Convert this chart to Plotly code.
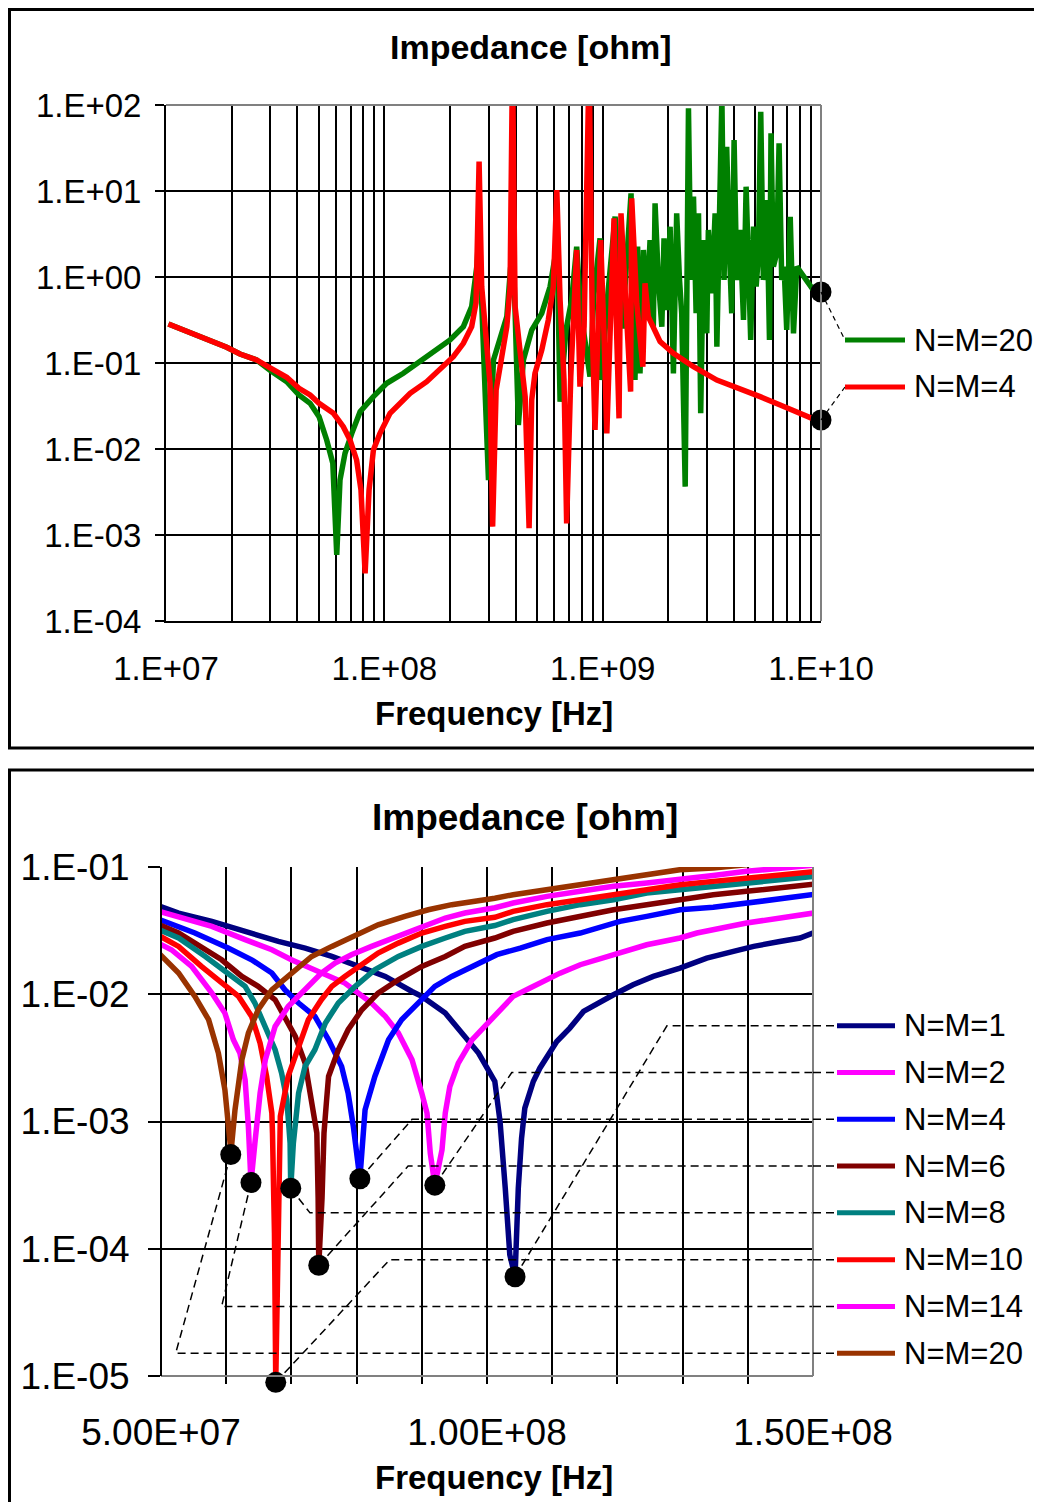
import numpy as np
import plotly.graph_objects as go

W, H = 1042, 1502
OFFSET = 8  # the page body adds an 8 px margin around the figure
FONT = "Liberation Sans, Arial, Helvetica, sans-serif"

# ---------------- Top chart: (log10 frequency [Hz], log10 impedance [ohm]) ----------------
N20_TOP = [
    (7.011, -0.546), (7.125, -0.655), (7.202, -0.732), (7.278, -0.817), (7.339, -0.895), (7.415, -0.965),
    (7.481, -1.093), (7.553, -1.217), (7.609, -1.372), (7.660, -1.469), (7.701, -1.624), (7.736, -1.895),
    (7.764, -2.166), (7.782, -3.232), (7.797, -2.360), (7.820, -2.050), (7.851, -1.818), (7.889, -1.566),
    (7.950, -1.391), (8.011, -1.236), (8.087, -1.120), (8.163, -0.984), (8.240, -0.849), (8.301, -0.732),
    (8.362, -0.577), (8.400, -0.345), (8.425, 0.150), (8.434, 0.600), (8.446, -0.300), (8.462, -1.200),
    (8.477, -2.361), (8.500, -0.965), (8.530, -0.733), (8.561, -0.461), (8.578, 0.100), (8.590, 0.300),
    (8.600, -0.500), (8.614, -1.721), (8.637, -0.965), (8.675, -0.616), (8.721, -0.423), (8.759, -0.113),
    (8.782, 0.236), (8.790, 0.500), (8.805, -1.450), (8.832, -0.616), (8.858, -0.267), (8.881, 0.353),
    (8.900, -0.400), (8.942, -1.159), (8.960, -0.200), (8.988, 0.449), (8.995, -1.198), (9.020, -0.300),
    (9.057, 0.702), (9.090, -0.600), (9.130, 0.973), (9.148, -1.198), (9.160, 0.353), (9.171, -1.120),
    (9.187, 0.314), (9.202, -0.422), (9.217, 0.430), (9.232, -0.578), (9.240, 0.857), (9.255, -0.035),
    (9.271, -0.578), (9.281, 0.450), (9.294, -0.384), (9.309, 0.585), (9.324, -1.120), (9.339, 0.740),
    (9.352, -0.035), (9.362, -0.422), (9.378, -2.438), (9.385, 0.663), (9.393, 1.961), (9.404, -0.035),
    (9.416, 0.934), (9.428, -0.422), (9.439, 0.740), (9.449, -1.585), (9.462, 0.430), (9.477, -0.655),
    (9.484, 0.547), (9.500, -0.190), (9.515, 0.740), (9.523, -0.810), (9.535, 0.353), (9.546, 2.100),
    (9.556, -0.035), (9.568, 1.515), (9.581, 0.275), (9.591, -0.422), (9.602, 1.593), (9.614, -0.035),
    (9.629, 0.547), (9.645, -0.500), (9.657, 1.050), (9.668, -0.035), (9.678, -0.732), (9.691, 0.585),
    (9.703, -0.112), (9.713, 0.236), (9.724, 1.922), (9.736, -0.035), (9.752, 0.895), (9.764, -0.732),
    (9.771, 1.671), (9.782, 0.120), (9.797, 0.275), (9.808, 1.554), (9.820, -0.035), (9.831, 0.120),
    (9.843, -0.616), (9.859, 0.701), (9.874, -0.655), (9.889, 0.120), (9.920, 0.004), (9.965, -0.151),
    (10.000, -0.174),
]
N4_TOP = [
    (7.011, -0.546), (7.125, -0.655), (7.202, -0.732), (7.278, -0.817), (7.339, -0.895), (7.415, -0.965),
    (7.481, -1.062), (7.553, -1.166), (7.609, -1.294), (7.660, -1.372), (7.701, -1.469), (7.767, -1.585),
    (7.812, -1.740), (7.843, -1.895), (7.873, -2.128), (7.893, -2.476), (7.912, -3.445), (7.930, -2.476),
    (7.950, -2.011), (7.980, -1.818), (8.026, -1.585), (8.072, -1.469), (8.118, -1.352), (8.194, -1.217),
    (8.270, -1.042), (8.316, -0.926), (8.362, -0.771), (8.400, -0.577), (8.420, -0.300), (8.434, 1.341),
    (8.446, -0.113), (8.469, -0.733), (8.484, -1.236), (8.496, -2.903), (8.512, -1.314), (8.538, -0.926),
    (8.561, -0.578), (8.576, -0.113), (8.587, 2.500), (8.599, -0.345), (8.622, -0.888), (8.645, -1.391),
    (8.663, -2.922), (8.675, -1.430), (8.690, -1.120), (8.721, -0.849), (8.751, -0.500), (8.774, -0.113),
    (8.790, 1.011), (8.805, -0.267), (8.823, -1.198), (8.835, -2.865), (8.854, -1.159), (8.869, -0.461),
    (8.881, 0.314), (8.896, -1.275), (8.915, -0.578), (8.938, 2.500), (8.953, -0.655), (8.965, -1.779),
    (8.980, -0.267), (8.991, 0.430), (9.006, -0.655), (9.019, -1.818), (9.034, -0.655), (9.052, 0.682),
    (9.064, -0.655), (9.075, -1.643), (9.084, 0.740), (9.106, -0.423), (9.128, -1.333), (9.133, 0.915),
    (9.156, -0.306), (9.184, -1.043), (9.194, -0.074), (9.209, -0.461), (9.232, -0.578), (9.263, -0.752),
    (9.324, -0.887), (9.416, -1.043), (9.523, -1.198), (9.629, -1.295), (9.721, -1.391), (9.813, -1.488),
    (9.904, -1.585), (9.958, -1.643), (10.000, -1.663),
]
TOP_SERIES = [("N=M=20", "#008000", N20_TOP), ("N=M=4", "#FF0000", N4_TOP)]
TOP_XTICKS = [1e7, 1e8, 1e9, 1e10]
TOP_XTEXT = ["1.E+07", "1.E+08", "1.E+09", "1.E+10"]
TOP_YTICKS = [1e-4, 1e-3, 1e-2, 1e-1, 1e0, 1e1, 1e2]
TOP_YTEXT = ["1.E-04", "1.E-03", "1.E-02", "1.E-01", "1.E+00", "1.E+01", "1.E+02"]

# ---------------- Bottom chart: (frequency [MHz], log10 impedance [ohm]) ----------------
NM1 = [(48.5, -1.283), (52.7, -1.362), (57.8, -1.427), (62.9, -1.506), (68.0, -1.585), (72.1, -1.637),
       (76.2, -1.703), (80.3, -1.781), (84.4, -1.860), (88.5, -1.978), (90.0, -2.017), (93.6, -2.148),
       (96.6, -2.331), (98.7, -2.462), (101.2, -2.685), (102.0, -3.000), (102.8, -3.524), (103.5, -4.048),
       (104.3, -4.220), (104.8, -3.524), (105.3, -3.131), (105.8, -2.895), (107.1, -2.685), (108.1, -2.581),
       (110.7, -2.371), (112.7, -2.266), (114.8, -2.135), (116.8, -2.083), (119.4, -2.004), (122.4, -1.925),
       (125.5, -1.860), (129.6, -1.794), (133.7, -1.716), (137.8, -1.663), (140.9, -1.624), (144.9, -1.585),
       (148.0, -1.558), (150.0, -1.519), (151.8, -1.519)]
NM2 = [(48.5, -1.330), (52.7, -1.388), (57.8, -1.467), (62.9, -1.571), (67.0, -1.650), (70.0, -1.729),
       (74.1, -1.820), (78.2, -1.912), (82.3, -2.069), (84.4, -2.174), (86.4, -2.305), (88.5, -2.515),
       (90.0, -2.777), (90.8, -2.934), (91.3, -3.249), (92.0, -3.500), (93.1, -3.222), (93.6, -2.934),
       (94.3, -2.725), (95.6, -2.541), (97.7, -2.358), (101.2, -2.170), (104.0, -2.017), (106.6, -1.951),
       (111.2, -1.834), (114.3, -1.768), (119.4, -1.689), (124.5, -1.611), (129.6, -1.558), (132.2, -1.519),
       (139.8, -1.440), (144.9, -1.401), (151.8, -1.349)]
NM4 = [(48.5, -1.388), (52.7, -1.467), (55.2, -1.519), (60.3, -1.637), (63.9, -1.729), (67.0, -1.833),
       (69.0, -1.965), (71.1, -2.069), (73.6, -2.174), (75.7, -2.358), (77.7, -2.567), (78.7, -2.777),
       (79.5, -3.039), (80.5, -3.450), (81.3, -2.908), (82.8, -2.646), (84.9, -2.358), (86.9, -2.200),
       (88.5, -2.122), (90.0, -2.043), (92.0, -1.938), (94.6, -1.860), (97.7, -1.781), (99.7, -1.729),
       (101.5, -1.689), (105.1, -1.637), (109.2, -1.571), (114.3, -1.519), (120.4, -1.427), (124.5, -1.388),
       (129.6, -1.336), (134.7, -1.317), (139.8, -1.283), (144.9, -1.244), (151.8, -1.205)]
NM6 = [(48.5, -1.427), (52.7, -1.519), (55.2, -1.598), (59.3, -1.729), (62.4, -1.860), (64.9, -1.938),
       (67.5, -2.043), (69.0, -2.174), (70.6, -2.331), (72.1, -2.541), (73.4, -2.900), (73.9, -3.090),
       (74.1, -3.600), (74.2, -4.130), (74.7, -3.600), (75.0, -3.090), (75.4, -2.830), (75.7, -2.646),
       (77.2, -2.436), (78.7, -2.279), (80.8, -2.122), (83.3, -1.991), (86.4, -1.886), (90.0, -1.781),
       (93.6, -1.703), (96.6, -1.624), (101.2, -1.558), (104.0, -1.506), (109.2, -1.440), (114.3, -1.388),
       (119.4, -1.336), (124.5, -1.296), (129.6, -1.257), (134.7, -1.218), (139.8, -1.191), (144.9, -1.165),
       (151.8, -1.126)]
NM8 = [(48.5, -1.467), (52.7, -1.558), (56.8, -1.703), (60.3, -1.833), (62.9, -1.938), (64.4, -2.069),
       (66.0, -2.253), (67.5, -2.436), (68.5, -2.620), (69.3, -2.829), (69.8, -3.170), (69.9, -3.524),
       (70.3, -3.170), (71.1, -2.777), (72.1, -2.567), (73.6, -2.436), (75.2, -2.227), (77.2, -2.069),
       (79.8, -1.938), (82.8, -1.807), (86.4, -1.703), (90.0, -1.624), (93.6, -1.558), (96.6, -1.506),
       (101.2, -1.460), (104.0, -1.414), (109.2, -1.349), (114.3, -1.296), (119.4, -1.257), (124.5, -1.205),
       (129.6, -1.178), (134.7, -1.152), (139.8, -1.126), (144.9, -1.100), (151.8, -1.066)]
NM10 = [(48.5, -1.506), (52.7, -1.624), (56.2, -1.781), (59.3, -1.912), (61.9, -2.017), (63.9, -2.174),
        (65.2, -2.384), (66.2, -2.646), (67.0, -2.934), (67.1, -3.091), (67.4, -3.878), (67.6, -5.050),
        (68.0, -3.878), (68.3, -2.960), (69.5, -2.646), (71.1, -2.410), (72.6, -2.200), (74.6, -2.043),
        (76.2, -1.938), (78.2, -1.860), (80.3, -1.781), (83.3, -1.676), (86.4, -1.598), (90.0, -1.519),
        (93.6, -1.467), (96.6, -1.427), (101.2, -1.395), (104.0, -1.349), (109.2, -1.296), (114.3, -1.257),
        (119.4, -1.218), (124.5, -1.178), (129.6, -1.139), (134.7, -1.113), (139.8, -1.087), (144.9, -1.060),
        (151.8, -1.029)]
NM14 = [(48.5, -1.571), (51.6, -1.650), (54.7, -1.781), (57.8, -1.991), (59.8, -2.148), (61.1, -2.358),
        (62.1, -2.462), (62.9, -2.672), (63.4, -3.039), (63.8, -3.480), (64.4, -3.170), (65.2, -2.777),
        (66.0, -2.515), (67.5, -2.253), (69.5, -2.096), (72.1, -1.965), (74.6, -1.833), (76.7, -1.755),
        (79.2, -1.689), (82.3, -1.624), (86.4, -1.545), (90.0, -1.467), (93.6, -1.401), (96.6, -1.362),
        (101.2, -1.320), (104.0, -1.283), (109.2, -1.231), (114.3, -1.191), (119.4, -1.152), (124.5, -1.126),
        (129.6, -1.100), (134.7, -1.066), (139.8, -1.034), (144.9, -1.008), (151.8, -0.977)]
NM20 = [(48.5, -1.619), (50.6, -1.729), (52.7, -1.833), (55.2, -2.017), (57.3, -2.200), (58.8, -2.462),
        (59.8, -2.751), (60.6, -3.170), (60.7, -3.260), (61.35, -2.908), (62.4, -2.515), (63.4, -2.305),
        (64.9, -2.122), (67.0, -1.965), (70.0, -1.833), (73.1, -1.703), (76.2, -1.624), (80.3, -1.519),
        (83.3, -1.454), (87.4, -1.388), (91.0, -1.336), (94.6, -1.296), (98.7, -1.270), (101.2, -1.245),
        (104.0, -1.218), (109.2, -1.178), (114.3, -1.139), (119.4, -1.100), (124.5, -1.060), (129.6, -1.021),
        (134.7, -1.008), (139.8, -0.982), (144.9, -0.956), (151.8, -0.943)]
BOT_SERIES = [("N=M=1", "#000080", NM1), ("N=M=2", "#FF00FF", NM2), ("N=M=4", "#0000FF", NM4),
              ("N=M=6", "#800000", NM6), ("N=M=8", "#008080", NM8), ("N=M=10", "#FF0000", NM10),
              ("N=M=14", "#FF00FF", NM14), ("N=M=20", "#993300", NM20)]
BOT_XTICKS = [5e7, 1e8, 1.5e8]
BOT_XTEXT = ["5.00E+07", "1.00E+08", "1.50E+08"]
BOT_YTICKS = [1e-5, 1e-4, 1e-3, 1e-2, 1e-1]
BOT_YTEXT = ["1.E-05", "1.E-04", "1.E-03", "1.E-02", "1.E-01"]

# ---------------- layout geometry (pixels of the 1042x1502 page) ----------------
def px_x(px):
    return (px - OFFSET) / W


def px_y(py):
    return 1 - (py - OFFSET) / H


TOP_XDOM = [px_x(166), px_x(821)]
TOP_YDOM = [px_y(621), px_y(105)]

BOT_DECADE_PX = (1376 - 867) / 4.0
BOT_YLO = -5.06          # a little room under 1.E-05 so the off-scale dip marker stays visible
BOT_XDOM = [px_x(161), px_x(813)]
BOT_YDOM = [px_y(1376 + (-5 - BOT_YLO) * BOT_DECADE_PX), px_y(867)]

TOP_ROW_LOG = [-0.733, -1.279]                          # legend rows (log10 ohm on top y axis)
BOT_ROW_LOG = [-2.248 - 0.3675 * i for i in range(8)]   # legend rows (log10 ohm on bottom y axis)
BOT_CORNER_MHZ = [127.6, 103.8, 88.5, 87.9, 72.85, 85.1, 59.3, 52.25]  # leader-line bends

TOP_MINOR = [k * 10.0 ** e for e in (7, 8, 9) for k in range(2, 10)]
BOT_MINOR = [v * 1e7 for v in range(6, 15)]

LINE_W = 5.5

fig = go.Figure()

# ---- top chart curves (N=M=20 first so N=M=4 lies on top)
for name, color, pts in TOP_SERIES:
    lf, lz = np.array(pts).T
    fig.add_trace(go.Scatter(x=10 ** lf, y=10 ** lz, mode="lines", name=name,
                             line=dict(color=color, width=LINE_W), xaxis="x", yaxis="y",
                             showlegend=False, hoverinfo="skip"))
end_x = [10 ** pts[-1][0] for _, _, pts in TOP_SERIES]
end_y = [10 ** pts[-1][1] for _, _, pts in TOP_SERIES]
fig.add_trace(go.Scatter(x=end_x, y=end_y, mode="markers", marker=dict(color="black", size=21),
                         xaxis="x", yaxis="y", cliponaxis=False, showlegend=False, hoverinfo="skip"))

# ---- bottom chart curves
for name, color, pts in BOT_SERIES:
    f, lz = np.array(pts).T
    fig.add_trace(go.Scatter(x=f * 1e6, y=10 ** lz, mode="lines", name=name,
                             line=dict(color=color, width=LINE_W), xaxis="x2", yaxis="y2",
                             showlegend=False, hoverinfo="skip"))

# ---- leader lines inside the bottom plot (dip marker -> bend -> right edge)
dip_x, dip_y = [], []
for i, (name, color, pts) in enumerate(BOT_SERIES):
    f, lz = np.array(pts).T
    k = int(np.argmin(lz))
    dip_x.append(f[k] * 1e6)
    dip_y.append(10 ** lz[k])
    row = 10 ** BOT_ROW_LOG[i]
    fig.add_trace(go.Scatter(x=[f[k] * 1e6, BOT_CORNER_MHZ[i] * 1e6, 150e6], y=[10 ** lz[k], row, row],
                             mode="lines", line=dict(color="black", width=1.5, dash="8px,5px"),
                             xaxis="x2", yaxis="y2", showlegend=False, hoverinfo="skip"))
fig.add_trace(go.Scatter(x=dip_x, y=dip_y, mode="markers", marker=dict(color="black", size=21),
                         xaxis="x2", yaxis="y2", cliponaxis=False, showlegend=False, hoverinfo="skip"))

shapes = []
annotations = []

# outer frames
shapes.append(dict(type="rect", xref="paper", yref="paper", x0=px_x(9.5), x1=1.05, y0=px_y(748),
                   y1=px_y(9.5), line=dict(color="black", width=3), fillcolor="rgba(0,0,0,0)"))
shapes.append(dict(type="rect", xref="paper", yref="paper", x0=px_x(9.5), x1=1.05, y0=-0.05,
                   y1=px_y(770), line=dict(color="black", width=3), fillcolor="rgba(0,0,0,0)"))

# grey plot-area edges (top/right of the upper plot, bottom/right of the lower plot)
shapes.append(dict(type="line", xref="x domain", yref="y domain", x0=0, x1=1, y0=1, y1=1,
                   line=dict(color="#808080", width=2), layer="above"))
shapes.append(dict(type="line", xref="x domain", yref="y domain", x0=1, x1=1, y0=0, y1=1,
                   line=dict(color="#808080", width=2), layer="above"))
shapes.append(dict(type="line", xref="x2 domain", yref="y2", x0=0, x1=1, y0=1e-5, y1=1e-5,
                   line=dict(color="#808080", width=2), layer="above"))
shapes.append(dict(type="line", xref="x2 domain", yref="y2", x0=1, x1=1, y0=1e-5, y1=1e-1,
                   line=dict(color="#808080", width=2), layer="above"))
shapes.append(dict(type="line", xref="x2 domain", yref="y2", x0=0, x1=0, y0=1e-5, y1=1e-1,
                   line=dict(color="black", width=2), layer="above"))

# top legend + leader lines
for i, (name, color, pts) in enumerate(TOP_SERIES):
    row = 10 ** TOP_ROW_LOG[i]
    shapes.append(dict(type="line", xref="paper", yref="y", x0=TOP_XDOM[1], y0=10 ** pts[-1][1],
                       x1=px_x(845), y1=row, line=dict(color="black", width=1.2, dash="5px,4px")))
    shapes.append(dict(type="line", xref="paper", yref="y", x0=px_x(845), x1=px_x(905), y0=row, y1=row,
                       line=dict(color=color, width=5)))
    annotations.append(dict(text=name, xref="paper", yref="y", x=px_x(912), y=TOP_ROW_LOG[i],
                            xanchor="left", yanchor="middle", showarrow=False,
                            font=dict(family=FONT, size=31, color="black")))

# bottom legend + leader line ends
for i, (name, color, pts) in enumerate(BOT_SERIES):
    row = 10 ** BOT_ROW_LOG[i]
    shapes.append(dict(type="line", xref="paper", yref="y2", x0=BOT_XDOM[1], x1=px_x(837), y0=row, y1=row,
                       line=dict(color="black", width=1.5, dash="8px,5px")))
    shapes.append(dict(type="line", xref="paper", yref="y2", x0=px_x(837), x1=px_x(895), y0=row, y1=row,
                       line=dict(color=color, width=5)))
    annotations.append(dict(text=name, xref="paper", yref="y2", x=px_x(902), y=BOT_ROW_LOG[i],
                            xanchor="left", yanchor="middle", showarrow=False,
                            font=dict(family=FONT, size=31, color="black")))

# titles
for text, x, y, size in (("<b>Impedance [ohm]</b>", 530, 47, 34), ("<b>Frequency [Hz]</b>", 494, 714, 33),
                         ("<b>Impedance [ohm]</b>", 525, 818, 37), ("<b>Frequency [Hz]</b>", 494, 1477, 33)):
    annotations.append(dict(text=text, xref="paper", yref="paper", x=px_x(x), y=px_y(y),
                            xanchor="center", yanchor="middle", showarrow=False,
                            font=dict(family=FONT, size=size, color="black")))

grid = dict(showgrid=True, gridcolor="black", gridwidth=2, zeroline=False, tickmode="array",
            automargin=False, tickcolor="black", tickwidth=2)

fig.update_layout(
    width=W, height=H, margin=dict(l=0, r=0, t=0, b=0, pad=0, autoexpand=False),
    paper_bgcolor="white", plot_bgcolor="white", showlegend=False,
    font=dict(family=FONT, color="black"),
    xaxis=dict(type="log", domain=TOP_XDOM, range=[7, 10], anchor="y", tickvals=TOP_XTICKS,
               ticktext=TOP_XTEXT, tickfont=dict(family=FONT, size=33, color="black"),
               ticks="", ticklabelstandoff=17, showline=True, linecolor="black", linewidth=2,
               minor=dict(tickmode="array", tickvals=TOP_MINOR, showgrid=True, gridcolor="black",
                          gridwidth=2, ticks=""), **grid),
    yaxis=dict(type="log", domain=TOP_YDOM, range=[-4, 2], anchor="x", tickvals=TOP_YTICKS,
               ticktext=TOP_YTEXT, tickfont=dict(family=FONT, size=33, color="black"),
               ticks="outside", ticklen=9, ticklabelstandoff=7, showline=True, linecolor="black",
               linewidth=2, **grid),
    xaxis2=dict(type="linear", domain=BOT_XDOM, range=[50e6, 150e6], anchor="y2", tickvals=BOT_XTICKS,
                ticktext=BOT_XTEXT, tickfont=dict(family=FONT, size=37, color="black"),
                ticks="", ticklabelstandoff=23, showline=False,
                minor=dict(tickmode="array", tickvals=BOT_MINOR, showgrid=True, gridcolor="black",
                           gridwidth=2, ticks=""), **grid),
    yaxis2=dict(type="log", domain=BOT_YDOM, range=[BOT_YLO, -1], anchor="x2", tickvals=BOT_YTICKS,
                ticktext=BOT_YTEXT, tickfont=dict(family=FONT, size=37, color="black"),
                ticks="outside", ticklen=12, ticklabelstandoff=11, showline=False, **grid),
    shapes=shapes, annotations=annotations,
)

fig.write_html("out.html")
